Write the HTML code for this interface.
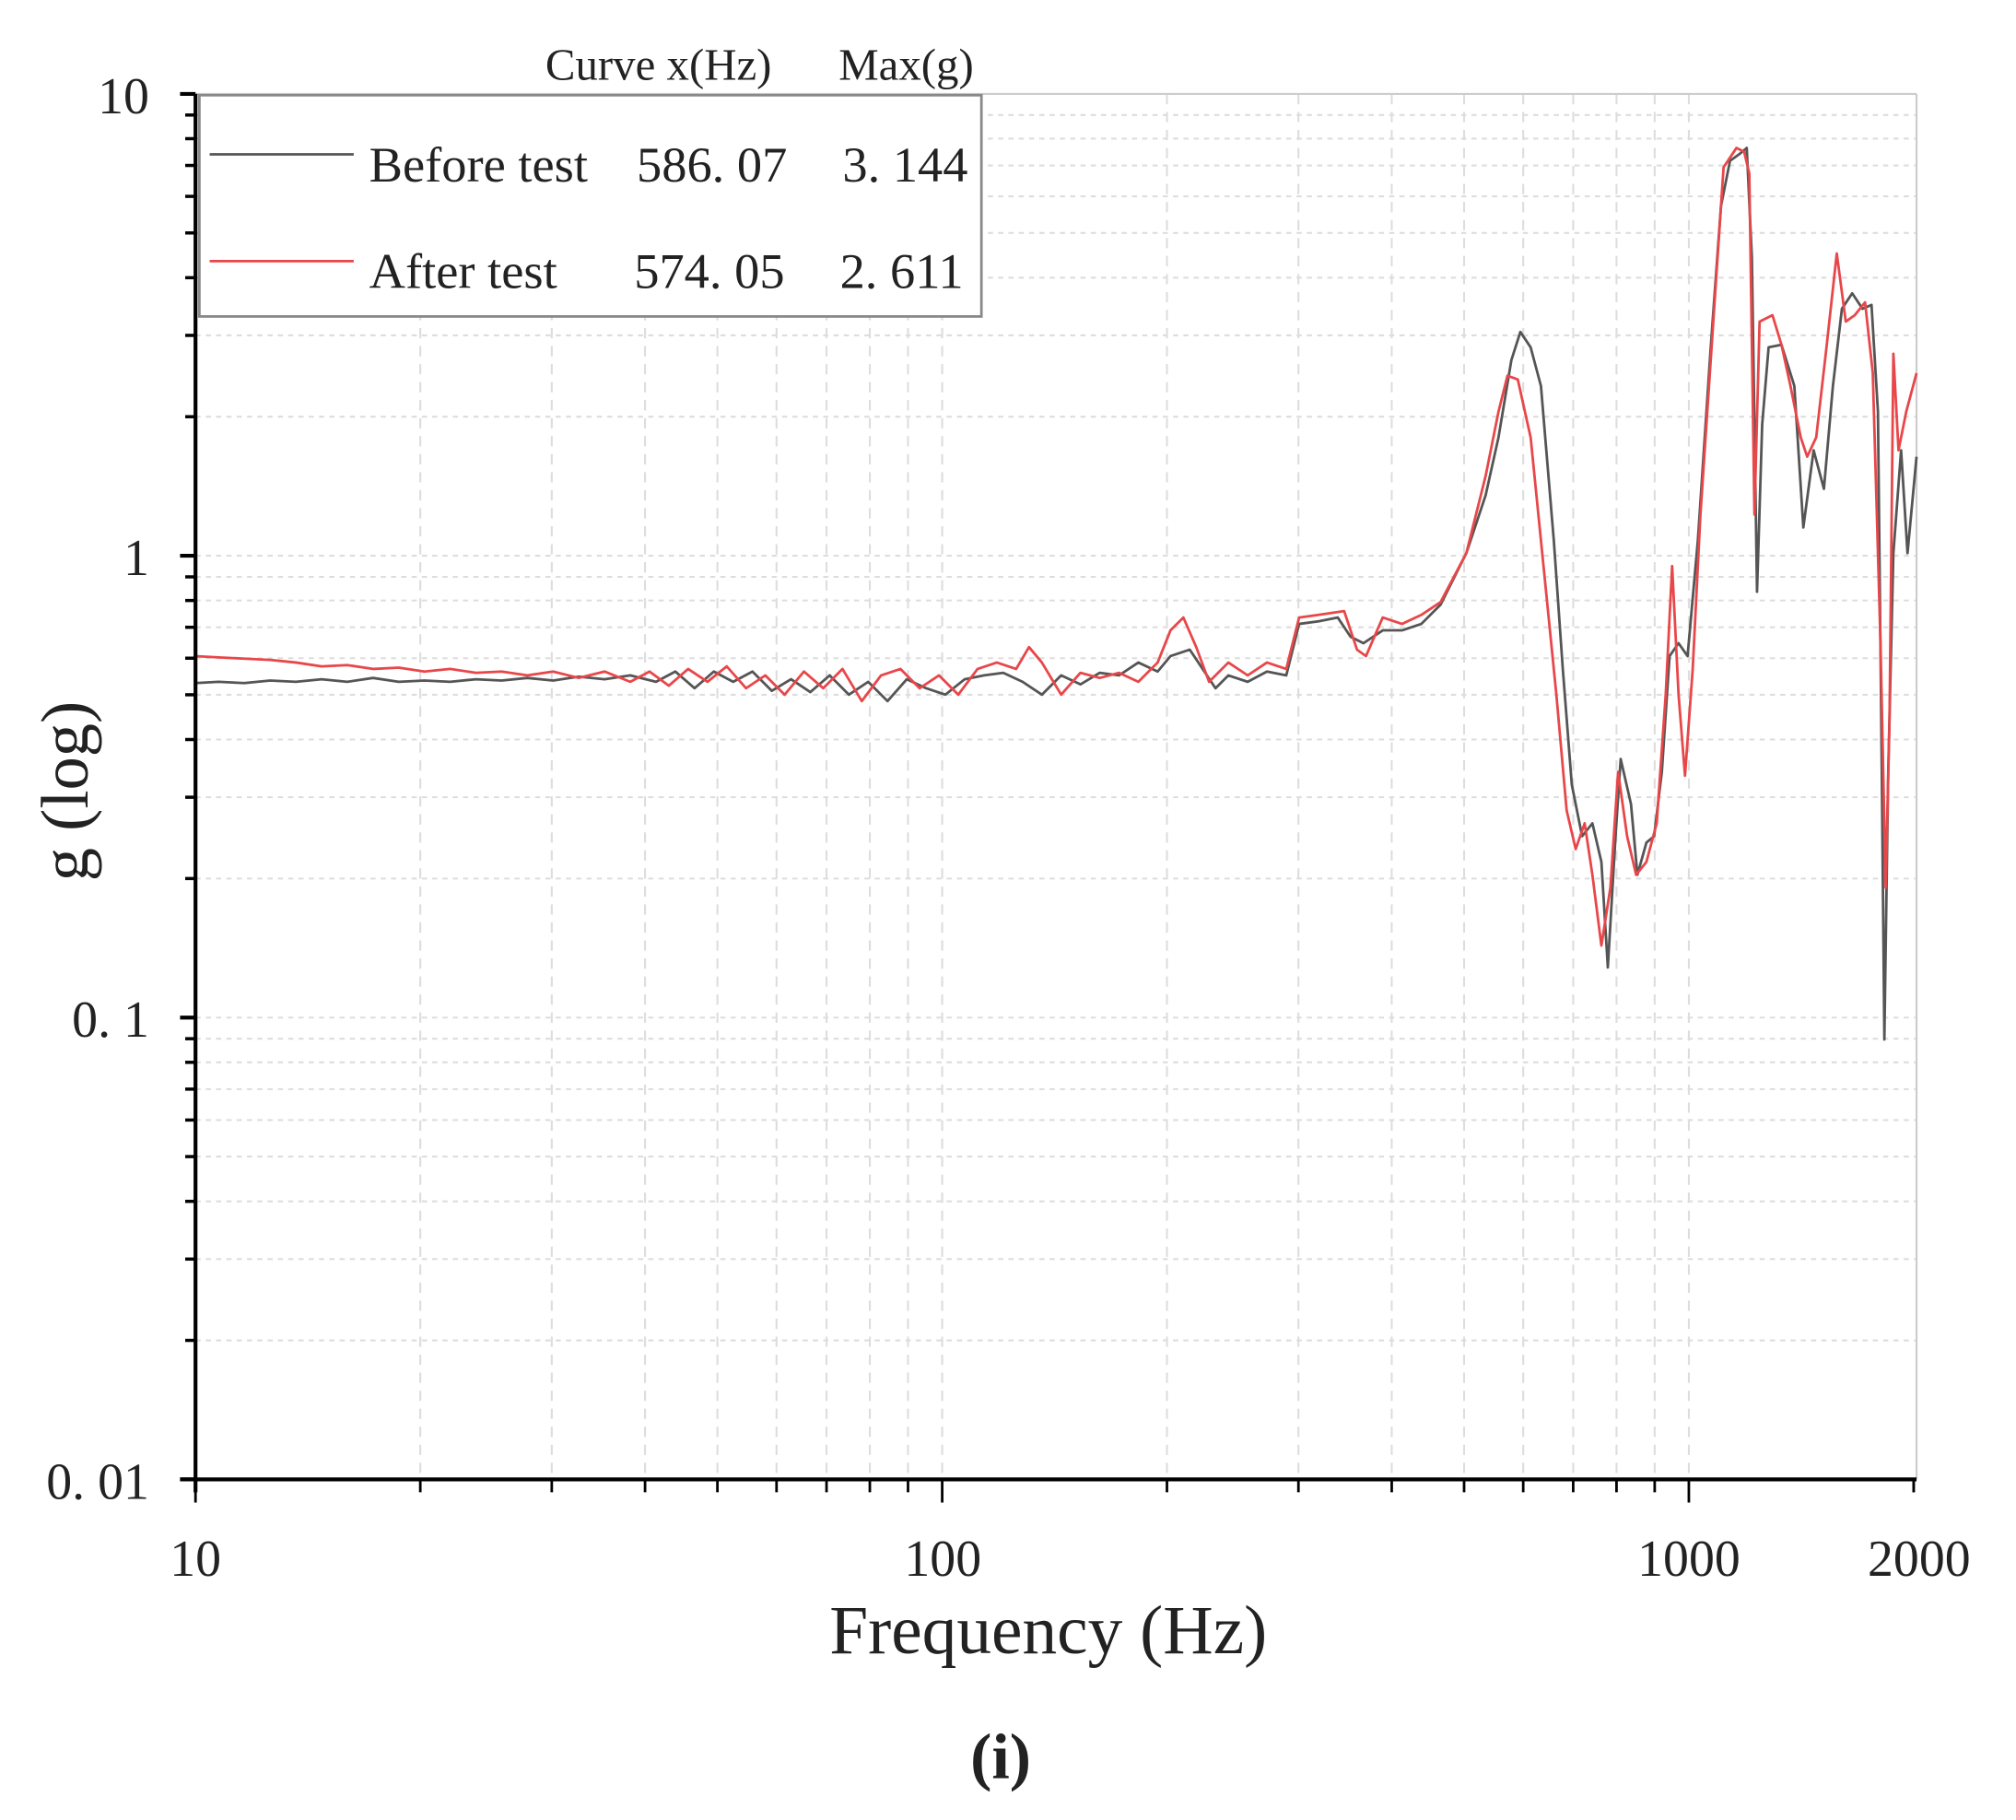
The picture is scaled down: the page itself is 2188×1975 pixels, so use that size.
<!DOCTYPE html>
<html><head><meta charset="utf-8"><style>
html,body{margin:0;padding:0;background:#fff;}
svg{display:block;}
text{font-family:"Liberation Serif",serif;fill:#222;}
</style></head><body>
<svg id="s" width="2188" height="1975" viewBox="0 0 2188 1975" xmlns="http://www.w3.org/2000/svg">
<g id="g" transform="scale(1.396)">
<rect x="152" y="73" width="1338" height="1077" fill="#fff"/>
<g id="grid"></g>
<line x1="1490" y1="73" x2="1490" y2="1150" stroke="#ccc" stroke-width="1.5"/>
<line x1="152" y1="73" x2="1490" y2="73" stroke="#ccc" stroke-width="1.5"/>
<polyline fill="none" stroke="#555" stroke-width="2" stroke-linejoin="round" points="152,531 170,530 190,531 210,529 230,530 250,528 270,530 290,527 310,530 330,529 350,530 370,528 390,529 410,527 430,529 450,526 470,528 490,525 510,530 525,522 540,535 555,522 570,530 585,522 600,537 615,528 630,538 645,525 660,540 675,530 690,545 705,528 720,535 735,540 750,528 765,525 780,523 795,530 810,540 825,525 840,532 855,523 870,525 885,515 900,522 910,510 925,505 935,520 945,535 955,525 970,530 985,522 1000,525 1010,485 1025,483 1040,480 1050,495 1060,500 1075,490 1090,490 1105,485 1120,470 1140,430 1155,385 1165,340 1175,280 1182,258 1190,270 1198,300 1208,420 1215,520 1222,610 1230,650 1238,640 1245,670 1250,752 1256,650 1260,590 1268,625 1273,680 1280,655 1286,650 1292,600 1298,510 1305,500 1312,510 1320,420 1330,270 1338,160 1345,125 1352,120 1358,115 1362,200 1366,460 1370,330 1375,270 1385,268 1395,300 1402,410 1410,350 1418,380 1425,300 1432,240 1440,228 1448,240 1455,237 1460,320 1463,600 1465,808 1468,600 1472,430 1478,350 1483,430 1490,355"/>
<polyline fill="none" stroke="#e8474a" stroke-width="2" stroke-linejoin="round" points="152,510 170,511 190,512 210,513 230,515 250,518 270,517 290,520 310,519 330,522 350,520 370,523 390,522 410,525 430,522 450,527 470,522 490,530 505,522 520,533 535,520 550,530 565,518 580,535 595,525 610,540 625,522 640,535 655,520 670,545 685,525 700,520 715,535 730,525 745,540 760,520 775,515 790,520 800,503 810,515 825,540 840,523 855,527 870,523 885,530 900,515 910,490 920,480 930,503 940,530 955,515 970,525 985,515 1000,520 1010,480 1025,478 1045,475 1055,505 1062,510 1075,480 1090,485 1105,478 1120,468 1140,430 1155,370 1165,320 1172,292 1180,295 1190,340 1200,440 1210,540 1218,630 1225,660 1232,640 1238,680 1245,735 1252,690 1258,600 1265,650 1272,680 1280,670 1288,640 1295,540 1300,440 1305,540 1310,603 1316,520 1322,400 1332,250 1340,130 1350,115 1356,118 1360,135 1364,400 1368,250 1378,245 1385,268 1392,300 1400,340 1405,355 1412,340 1420,270 1428,197 1435,250 1442,245 1450,235 1456,290 1462,500 1466,690 1469,560 1472,275 1476,350 1482,320 1490,290"/>
<line x1="152" y1="73" x2="152" y2="1160" stroke="#000" stroke-width="3"/>
<line x1="140" y1="1150" x2="1490" y2="1150" stroke="#000" stroke-width="3"/>
<g id="ticks"></g>
<rect x="155" y="74" width="608" height="172" fill="#fff" stroke="#888" stroke-width="2"/>
<line x1="163" y1="120" x2="275" y2="120" stroke="#555" stroke-width="2"/>
<line x1="163" y1="203" x2="275" y2="203" stroke="#e8474a" stroke-width="2"/>
<text x="424" y="62" font-size="35">Curve x(Hz)</text>
<text x="652" y="62" font-size="35">Max(g)</text>
<text x="287" y="141" font-size="39">Before test</text>
<text x="495" y="141" font-size="39">586. 07</text>
<text x="655" y="141" font-size="39">3. 144</text>
<text x="287" y="224" font-size="39">After test</text>
<text x="493" y="224" font-size="39">574. 05</text>
<text x="653" y="224" font-size="39">2. 611</text>
<g font-size="40" text-anchor="end">
<text x="116" y="88">10</text>
<text x="116" y="447">1</text>
<text x="116" y="806">0. 1</text>
<text x="116" y="1165">0. 01</text>
</g>
<g font-size="40" text-anchor="middle">
<text x="152" y="1225">10</text>
<text x="733" y="1225">100</text>
<text x="1313" y="1225">1000</text>
<text x="1492" y="1225">2000</text>
</g>
<text x="815" y="1285" font-size="54" text-anchor="middle" fill="#333">Frequency (Hz)</text>
<text transform="translate(68,615) rotate(-90)" font-size="52" text-anchor="middle" fill="#333">g (log)</text>
<text x="778" y="1382" font-size="50" font-weight="bold" text-anchor="middle" fill="#000">(i)</text>
</g>
</svg>
<script>
var ns="http://www.w3.org/2000/svg";
var grid=document.getElementById("grid"),ticks=document.getElementById("ticks");
function ln(p,x1,y1,x2,y2,st,w,d){var l=document.createElementNS(ns,"line");l.setAttribute("x1",x1);l.setAttribute("y1",y1);l.setAttribute("x2",x2);l.setAttribute("y2",y2);l.setAttribute("stroke",st);l.setAttribute("stroke-width",w);if(d)l.setAttribute("stroke-dasharray",d);p.appendChild(l);}
function X(f){return 152+580.5*Math.log10(f/10);}
function Y(g){return 1150-359*(Math.log10(g)+2);}
var xs=[];for(var d=10;d<=1000;d*=10)for(var k=1;k<10;k++){var f=d*k;if(f<=2000)xs.push(f);}xs.push(2000);
xs.forEach(function(f){var x=X(f);if(f>10&&f<2000)ln(grid,x,73,x,1150,"#ddd",1.5,"8,6");var maj=(f==10||f==100||f==1000);ln(ticks,x,1150,x,maj?1168:1160,"#000",2);});
for(var d=0.01;d<10;d*=10)for(var k=1;k<10;k++){var g=d*k;var y=Y(g);if(k>1||g>0.011)ln(grid,152,y,1490,y,"#ddd",1.5,"4,4");ln(ticks,k==1?140:144,y,152,y,"#000",k==1?3:2.5);}
ln(ticks,140,73,152,73,"#000",3);
</script>
</body></html>
